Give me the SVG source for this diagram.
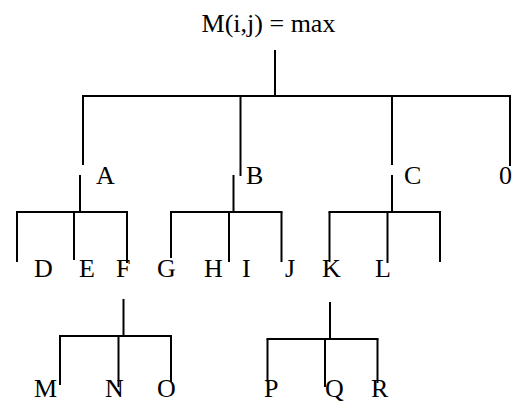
<svg xmlns="http://www.w3.org/2000/svg" width="512" height="403" viewBox="0 0 512 403">
<rect width="512" height="403" fill="#fff"/>
<g id="nodes" font-family="Liberation Serif" font-size="26" fill="#000">
<g id="root"><text x="268.5" y="32" text-anchor="middle">M(i,j) = max</text></g>
<g id="nA"><text x="96" y="184">A</text></g>
<g id="nB"><text x="246" y="184">B</text></g>
<g id="nC"><text x="404" y="184">C</text></g>
<g id="n0"><text x="499" y="184">0</text></g>
<g id="nD"><text x="34" y="277">D</text></g>
<g id="nE"><text x="79" y="277">E</text></g>
<g id="nF"><text x="116" y="277">F</text></g>
<g id="nG"><text x="157" y="277">G</text></g>
<g id="nH"><text x="204" y="277">H</text></g>
<g id="nI"><text x="242" y="277">I</text></g>
<g id="nJ"><text x="285" y="277">J</text></g>
<g id="nK"><text x="322" y="277">K</text></g>
<g id="nL"><text x="375" y="277">L</text></g>
<g id="nM"><text x="34" y="397">M</text></g>
<g id="nN"><text x="105" y="397">N</text></g>
<g id="nO"><text x="157" y="397">O</text></g>
<g id="nP"><text x="264" y="397">P</text></g>
<g id="nQ"><text x="325" y="397">Q</text></g>
<g id="nR"><text x="371" y="397">R</text></g>
</g>
<g id="connectors" stroke="#000" stroke-width="2" fill="none">
<line x1="275" y1="50" x2="275" y2="96"/>
<line x1="82" y1="96" x2="511" y2="96"/>
<line x1="83" y1="96" x2="83" y2="165"/>
<line x1="240.5" y1="96" x2="240.5" y2="176"/>
<line x1="392" y1="96" x2="392" y2="165"/>
<line x1="510" y1="96" x2="510" y2="166"/>
<line x1="80" y1="175" x2="80" y2="212"/>
<line x1="16" y1="212" x2="128" y2="212"/>
<line x1="17" y1="212" x2="17" y2="262"/>
<line x1="74" y1="212" x2="74" y2="260"/>
<line x1="127" y1="212" x2="127" y2="263"/>
<line x1="233.5" y1="175" x2="233.5" y2="212"/>
<line x1="170" y1="212" x2="282.5" y2="212"/>
<line x1="171" y1="212" x2="171" y2="258"/>
<line x1="229" y1="212" x2="229" y2="262"/>
<line x1="281.5" y1="212" x2="281.5" y2="262"/>
<line x1="392" y1="175" x2="392" y2="212"/>
<line x1="328.5" y1="212" x2="441" y2="212"/>
<line x1="329.5" y1="212" x2="329.5" y2="262"/>
<line x1="387.5" y1="212" x2="387.5" y2="263"/>
<line x1="440" y1="212" x2="440" y2="262"/>
<line x1="123.5" y1="299" x2="123.5" y2="336"/>
<line x1="59" y1="336" x2="172" y2="336"/>
<line x1="60" y1="336" x2="60" y2="385"/>
<line x1="118.5" y1="336" x2="118.5" y2="387"/>
<line x1="171" y1="336" x2="171" y2="382"/>
<line x1="330" y1="302" x2="330" y2="339"/>
<line x1="266.5" y1="339" x2="378.5" y2="339"/>
<line x1="267.5" y1="339" x2="267.5" y2="382"/>
<line x1="325" y1="339" x2="325" y2="387"/>
<line x1="377.5" y1="339" x2="377.5" y2="383"/>
</g>
</svg>
